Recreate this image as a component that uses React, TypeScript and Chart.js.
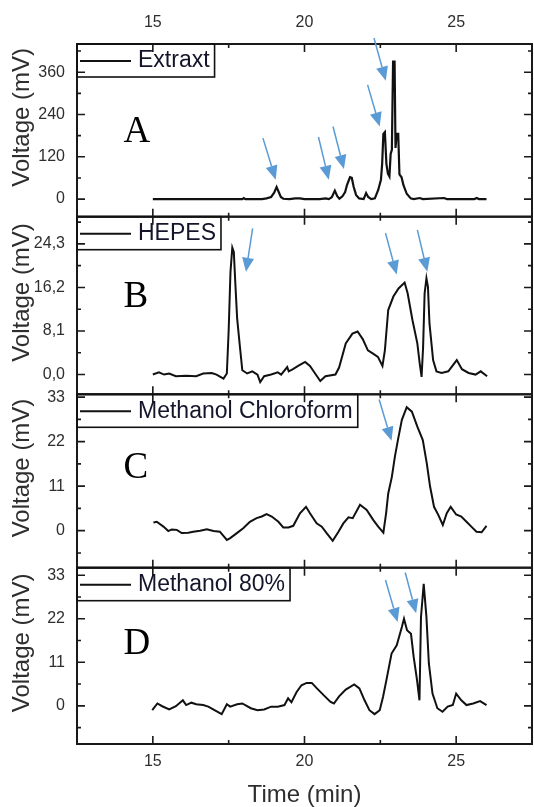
import React, { useEffect, useRef } from 'react';
import { Chart, registerables } from 'chart.js';

Chart.register(...registerables);

const W = 534;
const H = 807;
const FONT = '"Liberation Sans", Arial, sans-serif';
const SERIF = '"Liberation Serif", "Times New Roman", serif';
const TEXT = '#2e2e2e';

// x axis (Time, min)
const X_MIN = 12.5;
const X_MAX = 27.5;
const xMajorTicks = [15, 20, 25];
const xMinorTicks = [17.5, 22.5];

// Panel A: Extraxt
const aTime = [15.0, 16.5, 17.95, 18.0, 18.05, 18.6, 18.75, 18.9, 19.0, 19.08, 19.15, 19.22, 19.3, 19.5, 19.7, 19.85, 20.0, 20.5, 20.7, 20.8, 20.9, 21.0, 21.08, 21.15, 21.25, 21.34, 21.4, 21.5, 21.56, 21.62, 21.7, 21.8, 21.95, 22.03, 22.1, 22.2, 22.32, 22.43, 22.52, 22.56, 22.6, 22.65, 22.7, 22.75, 22.8, 22.84, 22.88, 22.92, 22.97, 23.0, 23.04, 23.09, 23.13, 23.2, 23.26, 23.37, 23.5, 23.6, 23.8, 23.9, 24.6, 24.7, 25.6, 25.68, 25.75, 26.0];
const aVoltage = [0, 0, 0, 3, 0, 0, 2, 6, 18, 34, 20, 6, 1, 0, 2, 2, 0, 0, 2, 0, 5, 24, 8, 1, 8, 20, 40, 62, 60, 35, 12, 2, 0, 17, 6, 0, 2, 26, 55, 100, 185, 190, 100, 72, 64, 128, 140, 390, 390, 145, 185, 185, 70, 62, 40, 15, 2, 0, 3, 0, 3, 0, 0, 3, 0, 0];
const aTicks = [0, 120, 240, 360];
const aTickLabels = ['0', '120', '240', '360'];
const aMinor = [60, 180, 300, 420];
const aArrows = [
  [18.63, 173, 19.05, 55],
  [20.46, 176, 20.8, 55],
  [20.94, 206, 21.3, 85],
  [22.08, 324, 22.48, 206],
  [22.29, 457, 22.68, 336],
];

// Panel B: HEPES
const bTime = [15.0, 15.2, 15.37, 15.54, 15.76, 16.1, 16.43, 16.66, 16.94, 17.1, 17.33, 17.44, 17.5, 17.56, 17.62, 17.67, 17.72, 17.78, 17.86, 17.95, 18.11, 18.28, 18.45, 18.54, 18.67, 18.9, 19.12, 19.23, 19.43, 19.48, 19.62, 19.79, 20.02, 20.18, 20.35, 20.52, 20.69, 21.02, 21.14, 21.36, 21.58, 21.75, 21.92, 22.09, 22.26, 22.42, 22.57, 22.65, 22.76, 22.93, 23.1, 23.3, 23.4, 23.56, 23.72, 23.8, 23.86, 23.91, 23.96, 24.02, 24.07, 24.12, 24.24, 24.35, 24.52, 24.74, 25.02, 25.19, 25.41, 25.64, 25.81, 26.02];
const bVoltage = [0.0, 0.4, 0, 0.2, -0.3, -0.2, -0.3, 0.2, 0.3, 0, -0.75, 0.2, 8.2, 19.1, 23.6, 22.8, 16.9, 10.4, 5.8, 0.8, 0.2, 0.6, 0, -1.4, -0.3, 0, 0.4, 0, 1.4, 0.6, 1.0, 1.6, 2.35, 1.6, 0.2, -1.2, -0.3, 0, 1.3, 5.8, 7.6, 8.0, 6.6, 4.5, 3.9, 3.3, 1.6, 4.5, 12.0, 14.5, 16.0, 17.1, 15.1, 10.1, 5.8, 2.0, -0.45, 5.1, 15.1, 17.9, 16.3, 9.5, 2.7, 0.6, 0.3, 0.6, 2.7, 1.0, 0.3, 0, 0.6, -0.3];
const bTicks = [0, 8.1, 16.2, 24.3];
const bTickLabels = ['0,0', '8,1', '16,2', '24,3'];
const bMinor = [4.05, 12.15, 20.25, 28.35];
const bArrows = [
  [18.29, 27.2, 18.07, 19.1],
  [22.67, 26.3, 23.04, 18.6],
  [23.72, 26.9, 24.05, 19.1],
];

// Panel C: Methanol Chloroform
const cTime = [15.02, 15.13, 15.35, 15.51, 15.62, 15.79, 15.95, 16.17, 16.33, 16.56, 16.78, 17.0, 17.21, 17.44, 17.54, 17.77, 17.98, 18.2, 18.42, 18.59, 18.75, 18.92, 19.14, 19.3, 19.47, 19.63, 19.85, 20.05, 20.18, 20.4, 20.57, 20.73, 20.93, 21.12, 21.28, 21.45, 21.59, 21.83, 22.05, 22.27, 22.43, 22.6, 22.69, 22.76, 22.88, 22.98, 23.09, 23.21, 23.37, 23.54, 23.72, 23.9, 24.03, 24.14, 24.27, 24.41, 24.56, 24.69, 24.82, 25.0, 25.17, 25.34, 25.5, 25.67, 25.84, 26.0];
const cVoltage = [2.0, 2.2, 1.0, -0.1, 0.3, 0.2, -0.6, -0.5, -0.25, 0, 0.35, -0.1, -0.25, -2.3, -1.9, -0.6, 0.6, 2.2, 3.1, 3.5, 4.1, 3.5, 2.2, 0.8, 0.8, 1.2, 4.3, 5.9, 4.3, 1.8, 1.0, -0.6, -2.5, -0.25, 1.8, 3.3, 3.1, 6.4, 5.1, 2.6, 1.0, -0.5, 4.3, 9.2, 13.3, 18.3, 22.8, 27.4, 30.5, 29.4, 25.7, 22.4, 16.7, 10.9, 5.9, 3.9, 1.4, 4.3, 5.9, 4.0, 3.5, 2.2, 1.0, -0.25, -0.4, 1.2];
const cTicks = [0, 11, 22, 33];
const cTickLabels = ['0', '11', '22', '33'];
const cMinor = [-5.5, 5.5, 16.5, 27.5];
const cArrows = [[22.46, 32.4, 22.87, 22.2]];

// Panel D: Methanol 80%
const dTime = [14.98, 15.15, 15.31, 15.54, 15.76, 15.99, 16.1, 16.27, 16.43, 16.66, 16.83, 16.99, 17.27, 17.44, 17.55, 17.78, 17.95, 18.23, 18.45, 18.67, 18.9, 19.12, 19.34, 19.46, 19.57, 19.74, 19.9, 20.07, 20.24, 20.41, 20.63, 20.86, 20.97, 21.14, 21.36, 21.64, 21.81, 21.98, 22.14, 22.31, 22.48, 22.59, 22.7, 22.87, 23.04, 23.21, 23.28, 23.38, 23.51, 23.6, 23.71, 23.79, 23.84, 23.93, 24.02, 24.1, 24.22, 24.38, 24.55, 24.72, 24.89, 25.0, 25.17, 25.34, 25.56, 25.79, 26.0];
const dVoltage = [-1.1, 0.6, -0.1, -0.9, -0.1, 1.4, 0.2, 0.8, 0.4, 0.2, -0.2, -0.9, -2.1, 0.4, -0.2, 0.4, 0.6, -0.6, -1.1, -0.9, -0.2, -0.2, 0.2, 1.9, 0.9, 3.5, 5.2, 5.8, 5.8, 4.4, 2.7, 1.0, 0.6, 2.4, 4.1, 5.4, 4.4, 1.4, -1.1, -2.1, -1.1, 2.3, 6.5, 13.2, 15.3, 19.9, 22.0, 19.1, 18.2, 12.3, 6.5, 1.4, 22.4, 30.8, 22.4, 10.7, 3.1, -0.6, -1.5, -0.2, 0.2, 3.1, 1.4, 0.2, 0.6, 1.2, 0.2];
const dTicks = [0, 11, 22, 33];
const dTickLabels = ['0', '11', '22', '33'];
const dMinor = [-5.5, 5.5, 16.5, 27.5];
const dArrows = [
  [22.67, 31.8, 23.07, 21.2],
  [23.32, 33.7, 23.68, 23.4],
];

type Panel = {
  label: string;
  letter: string;
  letterPos: number[];
  time: number[];
  volt: number[];
  yMin: number;
  yMax: number;
  ticks: number[];
  tickLabels: string[];
  minor: number[];
  arrows: number[][];
  top: number;
  bottom: number;
  xAxis: 'top' | 'bottom' | null;
};

const panels: Panel[] = [
  { label: 'Extraxt', letter: 'A', letterPos: [14.03, 162], time: aTime, volt: aVoltage, yMin: -50, yMax: 440, ticks: aTicks, tickLabels: aTickLabels, minor: aMinor, arrows: aArrows, top: 44, bottom: 216.7, xAxis: 'top' },
  { label: 'HEPES', letter: 'B', letterPos: [14.03, 12.6], time: bTime, volt: bVoltage, yMin: -3.67, yMax: 29.35, ticks: bTicks, tickLabels: bTickLabels, minor: bMinor, arrows: bArrows, top: 216.7, bottom: 394.3, xAxis: null },
  { label: 'Methanol Chloroform', letter: 'C', letterPos: [14.03, 12.95], time: cTime, volt: cVoltage, yMin: -9.15, yMax: 33.7, ticks: cTicks, tickLabels: cTickLabels, minor: cMinor, arrows: cArrows, top: 394.3, bottom: 567.7, xAxis: null },
  { label: 'Methanol 80%', letter: 'D', letterPos: [14.03, 13.2], time: dTime, volt: dVoltage, yMin: -9.64, yMax: 34.9, ticks: dTicks, tickLabels: dTickLabels, minor: dMinor, arrows: dArrows, top: 567.7, bottom: 744, xAxis: 'bottom' },
];

function drawArrow(ctx: CanvasRenderingContext2D, x0: number, y0: number, x1: number, y1: number) {
  const ang = Math.atan2(y1 - y0, x1 - x0);
  const hl = 14;
  const hw = 6;
  const bx = x1 - hl * Math.cos(ang);
  const by = y1 - hl * Math.sin(ang);
  ctx.strokeStyle = '#5b9bd5';
  ctx.fillStyle = '#5b9bd5';
  ctx.lineWidth = 1.5;
  ctx.beginPath();
  ctx.moveTo(x0, y0);
  ctx.lineTo(bx, by);
  ctx.stroke();
  ctx.beginPath();
  ctx.moveTo(x1, y1);
  ctx.lineTo(bx + hw * Math.sin(ang), by - hw * Math.cos(ang));
  ctx.lineTo(bx - hw * Math.sin(ang), by + hw * Math.cos(ang));
  ctx.closePath();
  ctx.fill();
}

function makeDecor(p: Panel) {
  return {
    id: 'panelDecor',
    afterDraw(chart: any) {
      const ctx: CanvasRenderingContext2D = chart.ctx;
      const { left, right, top, bottom } = chart.chartArea;
      const xs = chart.scales.x;
      const ys = chart.scales.y;
      ctx.save();
      // frame
      ctx.strokeStyle = '#1a1a1a';
      ctx.lineWidth = 2;
      ctx.strokeRect(left, top, right - left, bottom - top);
      // inward ticks
      ctx.lineWidth = 1.6;
      ctx.beginPath();
      const xt = (v: number, len: number) => {
        const px = xs.getPixelForValue(v);
        ctx.moveTo(px, top);
        ctx.lineTo(px, top + len);
        ctx.moveTo(px, bottom);
        ctx.lineTo(px, bottom - len);
      };
      const yt = (v: number, len: number) => {
        const py = ys.getPixelForValue(v);
        if (py < top - 0.5 || py > bottom + 0.5) return;
        ctx.moveTo(left, py);
        ctx.lineTo(left + len, py);
        ctx.moveTo(right, py);
        ctx.lineTo(right - len, py);
      };
      xMajorTicks.forEach((v) => xt(v, 8));
      xMinorTicks.forEach((v) => xt(v, 4));
      p.ticks.forEach((v) => yt(v, 8));
      p.minor.forEach((v) => yt(v, 4));
      ctx.stroke();

      // legend box
      ctx.font = `23px ${FONT}`;
      const tw = ctx.measureText(p.label).width;
      const textX = left + 61;
      const bh = 33;
      const bw = textX + tw + 5 - left;
      ctx.lineWidth = 1.6;
      ctx.strokeStyle = '#111';
      ctx.strokeRect(left, top, bw, bh);
      ctx.lineWidth = 2;
      ctx.beginPath();
      ctx.moveTo(left + 3, top + 17);
      ctx.lineTo(left + 54, top + 17);
      ctx.stroke();
      ctx.fillStyle = '#14142a';
      ctx.textAlign = 'left';
      ctx.textBaseline = 'middle';
      ctx.fillText(p.label, textX, top + 17);

      // panel letter
      ctx.font = `37px ${SERIF}`;
      ctx.fillStyle = '#000';
      ctx.textBaseline = 'alphabetic';
      ctx.fillText(p.letter, xs.getPixelForValue(p.letterPos[0]), ys.getPixelForValue(p.letterPos[1]));

      // arrows
      p.arrows.forEach((a) => {
        drawArrow(ctx, xs.getPixelForValue(a[0]), ys.getPixelForValue(a[1]), xs.getPixelForValue(a[2]), ys.getPixelForValue(a[3]));
      });

      // y title
      ctx.save();
      ctx.translate(left - 55, (top + bottom) / 2 - 13);
      ctx.rotate(-Math.PI / 2);
      ctx.font = `24px ${FONT}`;
      ctx.fillStyle = TEXT;
      ctx.textAlign = 'center';
      ctx.textBaseline = 'middle';
      ctx.fillText('Voltage (mV)', 0, 0);
      ctx.restore();

      ctx.restore();
    },
  };
}

function buildConfig(p: Panel): any {
  return {
    type: 'line',
    data: {
      datasets: [
        {
          label: p.label,
          data: p.time.map((t, i) => ({ x: t, y: p.volt[i] })),
          borderColor: '#111',
          borderWidth: p.letter === 'A' ? 2.2 : 2,
          pointRadius: 0,
          tension: 0,
          fill: false,
        },
      ],
    },
    options: {
      responsive: false,
      maintainAspectRatio: false,
      animation: false,
      layout: {
        padding: {
          top: p.xAxis === 'top' ? 0 : p.top,
          bottom: p.xAxis === 'bottom' ? 0 : H - p.bottom,
          left: 0,
          right: W - 532,
        },
      },
      plugins: { legend: { display: false }, tooltip: { enabled: false } },
      scales: {
        x: {
          type: 'linear',
          min: X_MIN,
          max: X_MAX,
          position: p.xAxis || 'bottom',
          display: !!p.xAxis,
          afterBuildTicks: (s: any) => {
            s.ticks = xMajorTicks.map((v) => ({ value: v }));
          },
          afterFit: (s: any) => {
            if (p.xAxis === 'top') s.height = p.top;
            else if (p.xAxis === 'bottom') s.height = H - p.bottom;
            else s.height = 0;
          },
          grid: { display: false, drawTicks: false },
          border: { display: false },
          ticks: {
            font: { size: 16, family: FONT },
            color: TEXT,
            padding: p.xAxis === 'top' ? 12 : 8,
            maxRotation: 0,
            autoSkip: false,
            callback: (v: number) => String(v),
          },
          title: {
            display: p.xAxis === 'bottom',
            text: 'Time (min)',
            color: TEXT,
            font: { size: 24, family: FONT, lineHeight: 1 },
            padding: { top: 0, bottom: 0 },
          },
        },
        y: {
          type: 'linear',
          min: p.yMin,
          max: p.yMax,
          afterBuildTicks: (s: any) => {
            s.ticks = p.ticks.map((v) => ({ value: v }));
          },
          afterFit: (s: any) => {
            s.width = 77;
          },
          grid: { display: false, drawTicks: false },
          border: { display: false },
          ticks: {
            font: { size: 16, family: FONT },
            color: TEXT,
            padding: 12,
            autoSkip: false,
            callback: (v: number) => {
              const i = p.ticks.findIndex((t) => Math.abs(t - v) < 1e-6);
              return i >= 0 ? p.tickLabels[i] : '';
            },
          },
        },
      },
    },
    plugins: [makeDecor(p)],
  };
}

export default function App() {
  const refs = useRef<(HTMLCanvasElement | null)[]>([]);
  useEffect(() => {
    const charts = panels.map((p, i) => new Chart(refs.current[i] as HTMLCanvasElement, buildConfig(p)));
    return () => charts.forEach((c) => c.destroy());
  }, []);
  return (
    <div style={{ position: 'absolute', left: 0, top: 0, width: W, height: H, background: '#fff' }}>
      {panels.map((p, i) => (
        <canvas
          key={p.letter}
          ref={(el) => {
            refs.current[i] = el;
          }}
          width={W}
          height={H}
          style={{ position: 'absolute', left: 0, top: 0, width: W, height: H }}
        />
      ))}
    </div>
  );
}
